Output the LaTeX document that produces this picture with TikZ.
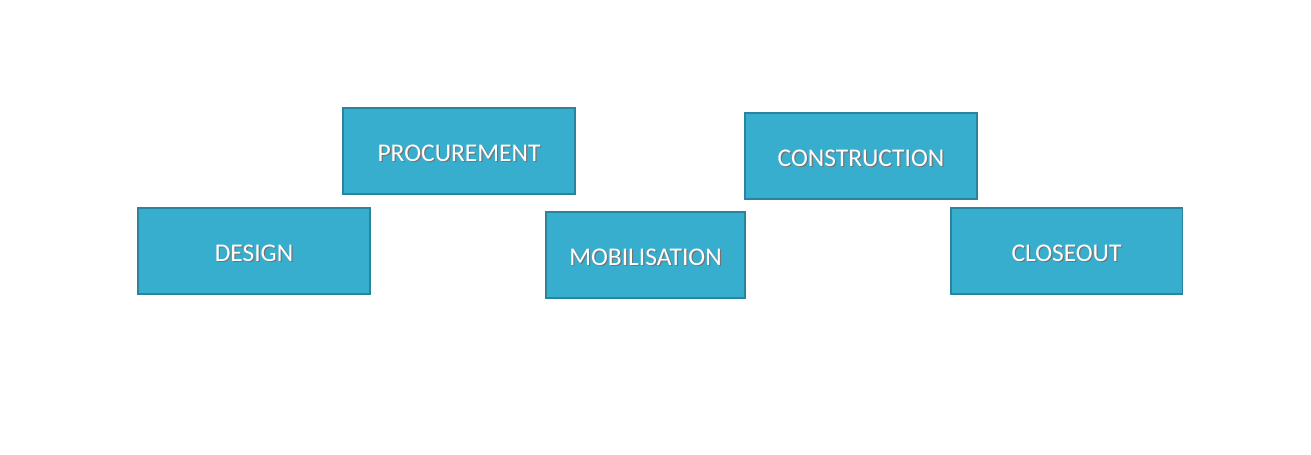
\documentclass[tikz,border=0pt]{standalone}
\usepackage{fontspec}
\setmainfont{Carlito}
\definecolor{phasefill}{HTML}{37AECE}
\definecolor{phaseedge}{HTML}{2B849D}
\newcommand{\phasetext}[1]{\raisebox{-1.7pt}[\height][\depth]{\makebox[0pt][l]{\hspace{0.7pt}\raisebox{-0.8pt}{\color{black!55}#1}}#1}}

\begin{document}
\begin{tikzpicture}[x=0.02cm,y=-0.02cm,
    phase/.style={draw=phaseedge,fill=phasefill,line width=1.1pt,
        minimum width=4.64cm,minimum height=1.72cm,inner sep=0pt,
        text=white,font=\fontsize{14.5}{17}\selectfont}]
        % page
        \useasboundingbox (0,0) rectangle (1311,455);

        % lower row
        \node[phase] (design) at (254,251) {\phasetext{DESIGN}};
        \node[phase,minimum width=3.98cm] (mobilisation) at (645.5,255) {\phasetext{MOBILISATION}};
        \node[phase] (closeout) at (1066.5,251) {\phasetext{CLOSEOUT}};

        % upper row
        \node[phase] (procurement) at (459,151) {\phasetext{PROCUREMENT}};
        \node[phase] (construction) at (861,156) {\phasetext{CONSTRUCTION}};
    \end{tikzpicture}
\end{document}
